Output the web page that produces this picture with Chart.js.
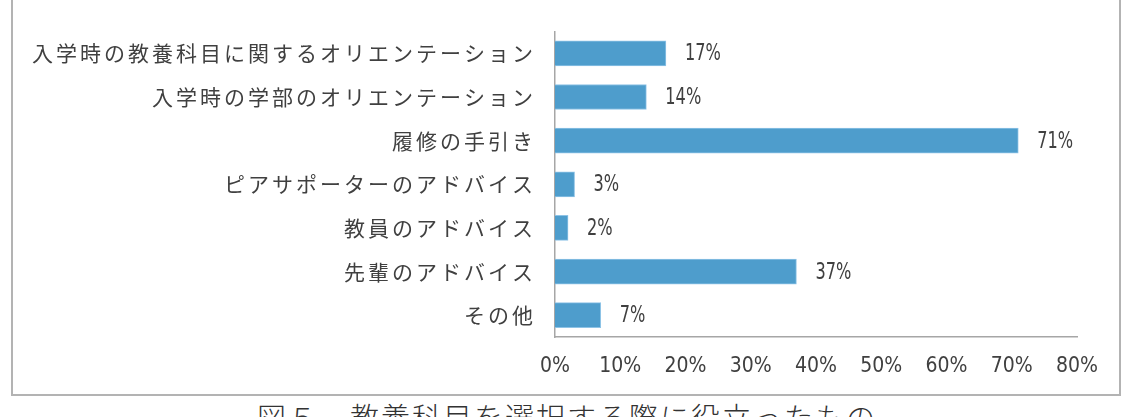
<!DOCTYPE html>
<html>
<head>
<meta charset="utf-8">
<script src="https://cdn.jsdelivr.net/npm/chart.js@4/dist/chart.umd.min.js"></script>
<style>
  body { margin: 0; background: #fff; width: 1134px; height: 417px; overflow: hidden; position: relative; }
  #frame { position: absolute; left: 11px; top: -4px; width: 1110px; height: 400px; border: 2px solid #b3b3b3; box-sizing: border-box; }
  #wrap { position: absolute; left: 0; top: 0; width: 1134px; height: 395px; }
  #caption { position: absolute; left: 0; width: 1134px; top: 402px; text-align: center;
    font-family: "Noto Sans CJK JP", sans-serif; font-weight: 300; font-size: 29px; line-height: 1; color: #333; letter-spacing: 2px; }
</style>
</head>
<body>
<div id="frame"></div>
<div id="wrap"><canvas id="myChart"></canvas></div>
<div id="caption">図５　教養科目を選択する際に役立ったもの</div>
<script>
// data
var categories = [
  "入学時の教養科目に関するオリエンテーション",
  "入学時の学部のオリエンテーション",
  "履修の手引き",
  "ピアサポーターのアドバイス",
  "教員のアドバイス",
  "先輩のアドバイス",
  "その他"
];
var values = [17, 14, 71, 3, 2, 37, 7];
var tickValues = [0, 10, 20, 30, 40, 50, 60, 70, 80];

var numFont = '"DejaVu Sans Condensed", "Liberation Sans Narrow", sans-serif';

// value labels at the end of each bar (drawn a bit narrow, like the original)
var valueLabels = {
  id: 'valueLabels',
  afterDatasetsDraw: function(chart) {
    var ctx = chart.ctx;
    var meta = chart.getDatasetMeta(0);
    ctx.save();
    ctx.letterSpacing = '0px';
    ctx.font = '23px ' + numFont;
    ctx.fillStyle = '#404040';
    ctx.textAlign = 'left';
    ctx.textBaseline = 'middle';
    meta.data.forEach(function(bar, i) {
      ctx.save();
      ctx.translate(bar.x + 19, bar.y + 1);
      ctx.scale(0.78, 1);
      ctx.fillText(values[i] + '%', 0, 0);
      ctx.restore();
    });
    ctx.restore();
  }
};

// a little spacing for the Japanese category labels only
var labelSpacing = {
  id: 'labelSpacing',
  beforeDraw: function(chart) { chart.ctx.letterSpacing = '3px'; },
  beforeDatasetsDraw: function(chart) { chart.ctx.letterSpacing = '0px'; }
};

var ctx = document.getElementById('myChart').getContext('2d');
var myChart = new Chart(ctx, {
  type: 'bar',
  data: {
    labels: categories,
    datasets: [{
      data: values,
      backgroundColor: '#4e9dcc',
      borderColor: '#8ec3e6',
      borderWidth: 1,
      barThickness: 25
    }]
  },
  plugins: [valueLabels, labelSpacing],
  options: {
    indexAxis: 'y',
    responsive: true,
    maintainAspectRatio: false,
    animation: false,
    layout: { padding: { top: 28, right: 57, bottom: 0, left: 0 } },
    plugins: {
      legend: { display: false },
      tooltip: { enabled: false }
    },
    scales: {
      x: {
        min: 0,
        max: 80,
        afterBuildTicks: function(scale) {
          scale.ticks = tickValues.map(function(v) { return { value: v }; });
        },
        afterFit: function(scale) { scale.height = 58; },
        grid: { display: false, drawTicks: false },
        border: { display: true, color: '#a6a6a6', width: 1.5 },
        ticks: {
          z: 1,
          padding: 17,
          color: '#404040',
          font: { family: numFont, size: 21 },
          callback: function(v) { return v + '%'; }
        }
      },
      y: {
        afterFit: function(scale) { scale.width = 555; },
        grid: { display: false, drawTicks: false },
        border: { display: true, color: '#a6a6a6', width: 1.5 },
        ticks: {
          padding: 19,
          color: '#404040',
          font: { family: '"Noto Sans CJK JP", sans-serif', size: 21 }
        }
      }
    }
  }
});
</script>
</body>
</html>
